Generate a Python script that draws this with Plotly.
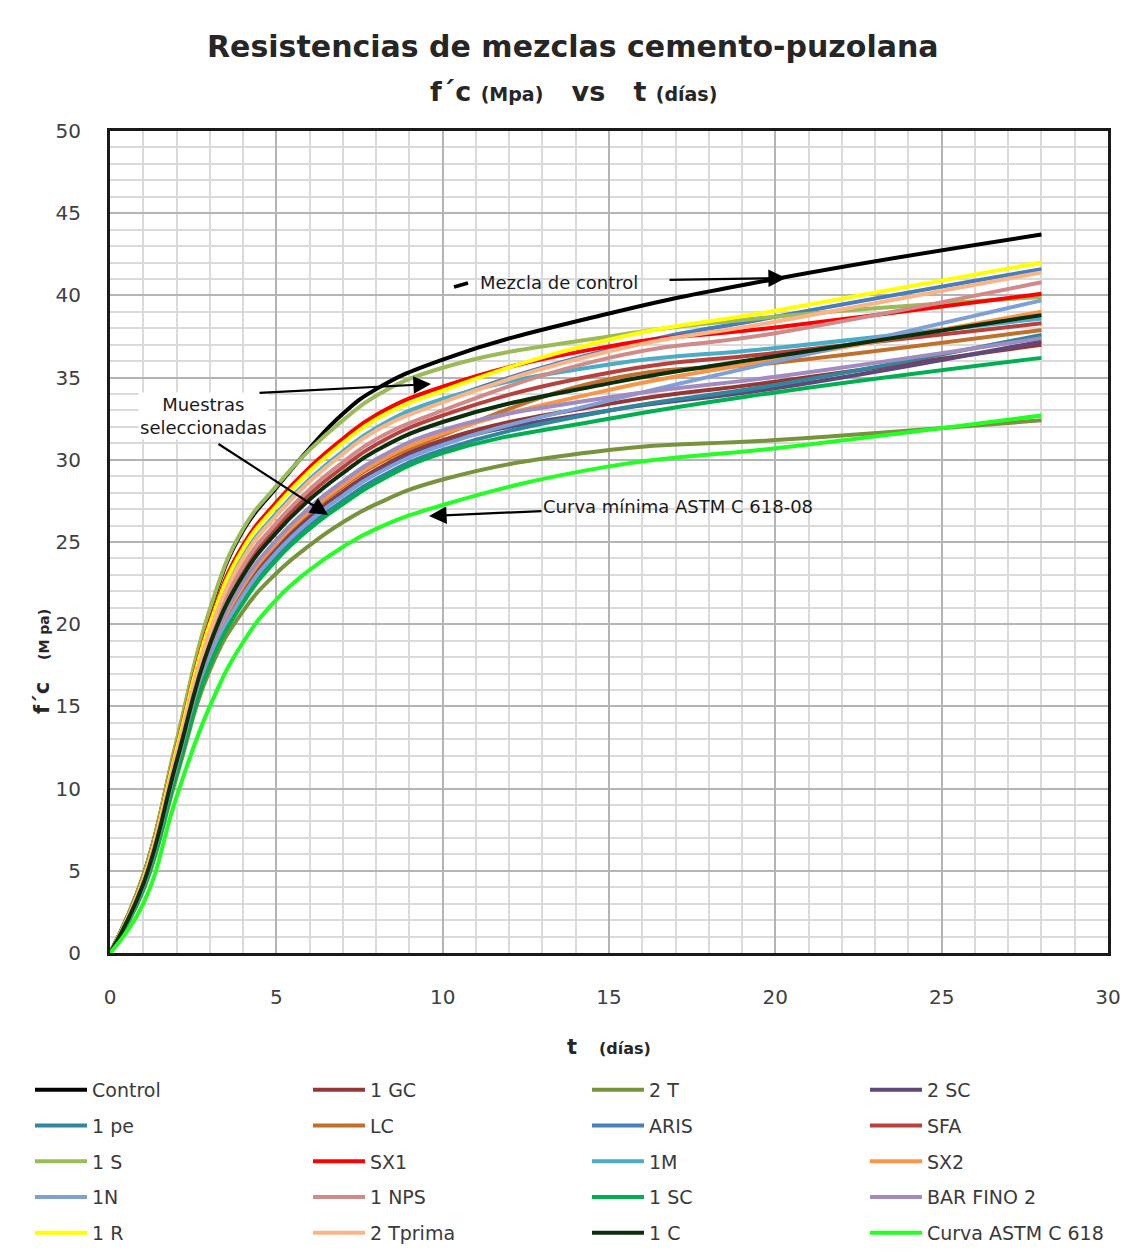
import plotly.graph_objects as go

# ---------------- data ----------------
t_days = [0, 1, 2, 3, 4, 5, 6, 7, 8, 10, 15, 20, 28]

control   = [0, 4.7, 12.8, 20.8, 25.7, 28.3, 30.7, 32.8, 34.3, 36.1, 38.9, 41.0, 43.7]
gc1       = [0, 4.02, 11.2, 18.01, 21.98, 24.58, 26.52, 28.07, 29.4, 31.2, 33.4, 34.75, 37.0]
t2        = [0, 3.8, 10.7, 17.2, 20.8, 23.1, 24.8, 26.2, 27.3, 28.8, 30.6, 31.2, 32.4]
sc2       = [0, 4.0, 11.14, 17.91, 21.84, 24.44, 26.38, 27.91, 29.24, 31.0, 33.0, 34.35, 37.2]
pe1       = [0, 3.93, 10.98, 17.64, 21.48, 24.08, 25.99, 27.5, 28.81, 30.6, 33.0, 34.55, 37.6]
lc        = [0, 4.07, 11.32, 18.21, 22.25, 24.85, 26.81, 28.37, 29.71, 31.5, 34.9, 35.9, 37.9]
aris      = [0, 4.4, 12.14, 19.61, 24.09, 26.69, 28.78, 30.46, 31.89, 33.6, 36.7, 38.7, 41.6]
sfa       = [0, 4.25, 11.78, 19.0, 23.28, 25.88, 27.91, 29.54, 30.93, 32.7, 35.3, 36.5, 38.3]
s1        = [0, 4.7, 12.9, 20.9, 25.8, 28.4, 30.6, 32.4, 33.9, 35.6, 37.5, 38.7, 39.9]
sx1       = [0, 4.52, 12.46, 20.15, 24.81, 27.41, 29.54, 31.28, 32.73, 34.45, 36.9, 38.05, 40.1]
m1        = [0, 4.4, 12.16, 19.64, 24.14, 26.74, 28.82, 30.51, 31.94, 33.7, 35.8, 36.8, 38.6]
sx2       = [0, 4.08, 11.36, 18.28, 22.34, 24.94, 26.9, 28.47, 29.82, 31.6, 34.25, 36.1, 39.0]
n1        = [0, 3.98, 11.1, 17.84, 21.75, 24.35, 26.28, 27.81, 29.13, 30.9, 33.6, 35.97, 39.7]
nps1      = [0, 4.3, 11.9, 19.2, 23.55, 26.15, 28.2, 29.85, 31.25, 33.0, 36.2, 37.7, 40.8]
sc1       = [0, 3.9, 10.9, 17.5, 21.3, 23.9, 25.8, 27.3, 28.6, 30.4, 32.5, 34.1, 36.2]
barfino2  = [0, 4.12, 11.44, 18.42, 22.52, 25.12, 27.1, 28.68, 30.03, 31.8, 33.8, 35.05, 37.4]
r1        = [0, 4.48, 12.36, 19.98, 24.59, 27.19, 29.3, 31.02, 32.47, 34.2, 37.3, 39.07, 42.0]
tprima2   = [0, 4.38, 12.1, 19.54, 24.0, 26.6, 28.68, 30.36, 31.78, 33.5, 36.6, 38.4, 41.4]
c1        = [0, 4.2, 11.64, 18.76, 22.97, 25.57, 27.58, 29.19, 30.56, 32.3, 34.65, 36.3, 38.8]
astm      = [0, 3.0, 9.5, 15.0, 18.9, 21.5, 23.3, 24.7, 25.8, 27.25, 29.6, 30.7, 32.7]

series_names = ["Control", "1 GC", "2 T", "2 SC",
                "1 pe", "LC", "ARIS", "SFA",
                "1 S", "SX1", "1M", "SX2",
                "1N", "1 NPS", "1 SC", "BAR FINO 2",
                "1 R", "2 Tprima", "1 C", "Curva ASTM C 618"]
series_values = [control, gc1, t2, sc2,
                 pe1, lc, aris, sfa,
                 s1, sx1, m1, sx2,
                 n1, nps1, sc1, barfino2,
                 r1, tprima2, c1, astm]

x_ticks = [0, 5, 10, 15, 20, 25, 30]
y_ticks = [0, 5, 10, 15, 20, 25, 30, 35, 40, 45, 50]

# ---------------- styles ----------------
colors = ["#000000", "#953735", "#77933C", "#5F497A",
          "#31859C", "#C0702A", "#4A7EBB", "#B8413E",
          "#9BBB59", "#FF0000", "#4BACC6", "#F79646",
          "#7F9FD7", "#D08A88", "#00B050", "#A08CC0",
          "#FFFF00", "#FAB486", "#0B2E0B", "#22FF22"]

OFF = 8                       # page margin of the browser around the figure
W, H = 1137 - OFF, 1251 - OFF
PL, PR, PT, PB = 110, 1108, 131, 953   # plot area in screenshot px
XMAX, YMAX = 30, 50


def px_x(px):
    return (px - PL) / (PR - PL)


def px_y(py):
    return (PB - py) / (PB - PT)


def dx(px):
    return (px - PL) / (PR - PL) * XMAX


def dy(py):
    return (PB - py) / (PB - PT) * YMAX


LEG_FONT = "DejaVu Sans, Verdana, sans-serif"
TXT_FONT = "DejaVu Sans, Verdana, sans-serif"
BOLD_FONT = "DejaVu Sans, Verdana, sans-serif"

fig = go.Figure()

legend_ids = ["legend", "legend2", "legend3", "legend4"]
for i, (name, vals, col) in enumerate(zip(series_names, series_values, colors)):
    fig.add_trace(go.Scatter(
        x=t_days, y=vals, name=name, mode="lines",
        line=dict(color=col, width=4, shape="spline", smoothing=1.3),
        legend=legend_ids[i % 4], legendgroup=name,
        hoverinfo="x+y+name",
    ))

# legends (4 columns)
leg_cols_px = [30, 308, 587, 865]
leg_common = dict(orientation="v", xanchor="left", yanchor="top",
                  bgcolor="rgba(0,0,0,0)", tracegroupgap=8,
                  font=dict(family=LEG_FONT, size=19, color="#3a3a3a"),
                  itemwidth=52)
legend_layout = {}
for lid, lx in zip(legend_ids, leg_cols_px):
    d = dict(leg_common)
    d["x"] = px_x(lx)
    d["y"] = px_y(1071)
    legend_layout[lid] = d

axis_common = dict(showline=True, mirror=True, linewidth=3, linecolor="#1a1a1a",
                   showgrid=True, gridcolor="#b4b4b4", gridwidth=1.5,
                   zeroline=False, ticks="",
                   tickfont=dict(family=TXT_FONT, size=20, color="#404040"))

fig.update_layout(
    width=W, height=H,
    margin=dict(l=PL - OFF, r=(W + OFF) - PR, t=PT - OFF, b=(H + OFF) - PB, autoexpand=False),
    paper_bgcolor="white", plot_bgcolor="white",
    showlegend=True,
    xaxis=dict(range=[0, XMAX], tickvals=x_ticks, ticklabelstandoff=24,
               minor=dict(dtick=1, showgrid=True, gridcolor="#dadada", gridwidth=1.5),
               **axis_common),
    yaxis=dict(range=[0, YMAX], tickvals=y_ticks, ticklabelstandoff=22,
               minor=dict(dtick=1, showgrid=True, gridcolor="#dadada", gridwidth=1.5),
               **axis_common),
    **legend_layout,
)

annotations = []
# title
annotations.append(dict(
    xref="paper", yref="paper", x=px_x(573), y=px_y(47), xanchor="center", yanchor="middle",
    text="<b>Resistencias de mezclas cemento-puzolana</b>", showarrow=False,
    font=dict(family=BOLD_FONT, size=30, color="#262626")))
annotations.append(dict(
    xref="paper", yref="paper", x=px_x(573), y=px_y(92), xanchor="center", yanchor="middle",
    text=("<b>f´c <span style='font-size:19px'>(Mpa)</span>&nbsp;&nbsp; vs &nbsp;&nbsp;t "
          "<span style='font-size:19px'>(días)</span></b>"),
    showarrow=False, font=dict(family=BOLD_FONT, size=27, color="#262626")))
# axis titles
annotations.append(dict(
    xref="paper", yref="paper", x=px_x(42), y=px_y(662), xanchor="center", yanchor="middle",
    text="<b>f´c &nbsp;&nbsp;<span style='font-size:14px'>(M pa)</span></b>", textangle=-90,
    showarrow=False, font=dict(family=BOLD_FONT, size=21, color="#262626")))
annotations.append(dict(
    xref="paper", yref="paper", x=px_x(609), y=px_y(1047), xanchor="center", yanchor="middle",
    text="<b>t &nbsp;&nbsp;<span style='font-size:16px'>(días)</span></b>",
    showarrow=False, font=dict(family=BOLD_FONT, size=21, color="#262626")))

# in-plot labels
annotations.append(dict(
    x=dx(478), y=dy(282), xanchor="left", yanchor="middle", text="Mezcla de control",
    showarrow=False, font=dict(family=TXT_FONT, size=18, color="#1a1a1a")))
annotations.append(dict(
    x=dx(203), y=dy(416), xanchor="center", yanchor="middle", text="Muestras<br>seleccionadas",
    showarrow=False, font=dict(family=TXT_FONT, size=18, color="#1a1a1a"), bgcolor="white"))
annotations.append(dict(
    x=dx(541), y=dy(506), xanchor="left", yanchor="middle", text="Curva mínima ASTM C 618-08",
    showarrow=False, font=dict(family=TXT_FONT, size=18, color="#1a1a1a")))

# arrows (tail -> tip), given in screenshot pixels
arrows = [((668, 280), (786, 278)),
          ((258, 393), (431, 384)),
          ((217, 443), (328, 515)),
          ((543, 511), (429, 516))]
for (tx, ty), (hx, hy) in arrows:
    annotations.append(dict(
        x=dx(hx), y=dy(hy), ax=dx(tx), ay=dy(ty), axref="x", ayref="y",
        xref="x", yref="y", text="", showarrow=True,
        arrowhead=2, arrowsize=1.6, arrowwidth=2.2, arrowcolor="#000000"))

fig.update_layout(annotations=annotations)

shapes = []
# small dash before "Mezcla de control"
shapes.append(dict(type="line", xref="x", yref="y",
                   x0=dx(454), y0=dy(287), x1=dx(468), y1=dy(283),
                   line=dict(color="#000000", width=3.5)))
# outer chart border (right edge visible)
shapes.append(dict(type="line", xref="paper", yref="paper",
                   x0=px_x(1133), y0=px_y(1251), x1=px_x(1133), y1=px_y(5),
                   line=dict(color="#8c8c8c", width=1.5)))
fig.update_layout(shapes=shapes)

fig.write_html("out.html")
